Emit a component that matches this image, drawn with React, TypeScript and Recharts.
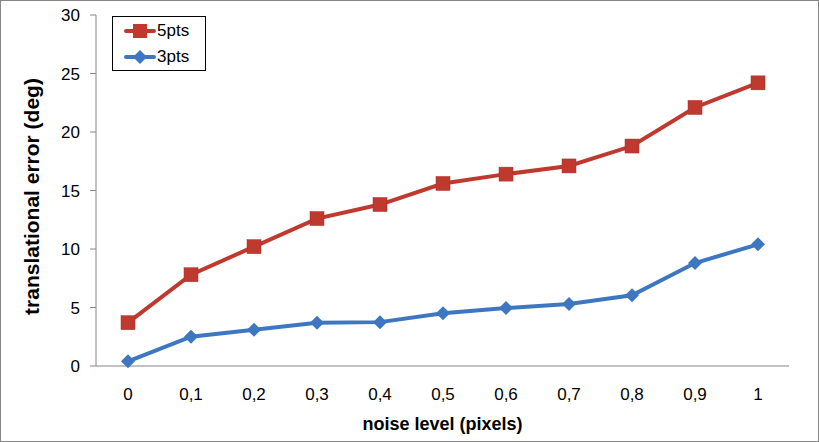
import { LineChart, Line, XAxis, YAxis } from 'recharts';

const noiseLevels = ['0', '0,1', '0,2', '0,3', '0,4', '0,5', '0,6', '0,7', '0,8', '0,9', '1'];
const pts5 = [3.7, 7.8, 10.2, 12.6, 13.8, 15.6, 16.4, 17.1, 18.8, 22.1, 24.2];
const pts3 = [0.4, 2.5, 3.1, 3.7, 3.75, 4.5, 4.95, 5.3, 6.05, 8.8, 10.4];
const yTicks = [0, 5, 10, 15, 20, 25, 30];

const data = noiseLevels.map((n, i) => ({ noise: n, pts5: pts5[i], pts3: pts3[i] }));

const RED = '#C0392F';
const BLUE = '#3D77C2';
const AXIS = '#868686';
const FONT = '"Liberation Sans", Arial, sans-serif';

const SquareDot = (props: any) => {
  const { cx, cy } = props;
  if (cx == null || cy == null) return null;
  return <rect x={cx - 7} y={cy - 7} width={14} height={14} fill={RED} stroke="#A8302A" strokeWidth={0.5} />;
};

const DiamondDot = (props: any) => {
  const { cx, cy } = props;
  if (cx == null || cy == null) return null;
  return <polygon points={`${cx},${cy - 7} ${cx + 7},${cy} ${cx},${cy + 7} ${cx - 7},${cy}`} fill={BLUE} />;
};

function LegendBox() {
  const item = (label: string, color: string, marker: 'sq' | 'dia') => (
    <div style={{ display: 'flex', alignItems: 'center', height: 26 }}>
      <svg width={32} height={16} style={{ marginRight: 1 }}>
        <line x1={2} y1={8} x2={30} y2={8} stroke={color} strokeWidth={4} strokeLinecap="round" />
        {marker === 'sq' ? (
          <rect x={9} y={1} width={14} height={14} fill={color} />
        ) : (
          <polygon points="16,1 23,8 16,15 9,8" fill={color} />
        )}
      </svg>
      <span style={{ fontSize: 17, color: '#000', fontFamily: FONT }}>{label}</span>
    </div>
  );
  return (
    <div style={{ position: 'absolute', left: 112, top: 16, border: '1px solid #000', width: 94, height: 55, boxSizing: 'border-box', padding: '1px 0 0 11px', background: '#fff' }}>
      {item('5pts', RED, 'sq')}
      {item('3pts', BLUE, 'dia')}
    </div>
  );
}

export default function App() {
  return (
    <div style={{ position: 'absolute', left: 0, top: 0, width: 819, height: 442, border: `1px solid ${AXIS}`, boxSizing: 'border-box', background: '#fff' }}>
      <div style={{ position: 'absolute', left: -1, top: -1 }}>
        <LineChart width={819} height={442} data={data} margin={{ top: 15, right: 30, bottom: 30, left: 0 }}>
          <XAxis
            dataKey="noise"
            height={46}
            padding={{ left: 32, right: 31 }}
            stroke={AXIS}
            tickLine={false}
            tickSize={0}
            tickMargin={22}
            tick={{ fill: '#000', fontSize: 17, fontFamily: FONT }}
            label={{
              content: ({ viewBox }: any) => (
                <text x={viewBox.x + viewBox.width / 2} y={430} textAnchor="middle" fontFamily={FONT} fontWeight="bold" fontSize={18} fill="#000">
                  noise level (pixels)
                </text>
              ),
            }}
          />
          <YAxis
            width={96}
            domain={[0, 30]}
            ticks={yTicks}
            stroke={AXIS}
            tickSize={6}
            tickMargin={10}
            tick={{ fill: '#000', fontSize: 17, fontFamily: FONT }}
            label={{
              content: ({ viewBox }: any) => {
                const cy = viewBox.y + viewBox.height / 2 + 6;
                return (
                  <text x={39} y={cy} transform={`rotate(-90, 39, ${cy})`} textAnchor="middle" fontFamily={FONT} fontWeight="bold" fontSize={21} fill="#000">
                    translational error (deg)
                  </text>
                );
              },
            }}
          />
          <Line dataKey="pts5" name="5pts" stroke={RED} strokeWidth={4} dot={<SquareDot />} activeDot={false} isAnimationActive={false} />
          <Line dataKey="pts3" name="3pts" stroke={BLUE} strokeWidth={4} dot={<DiamondDot />} activeDot={false} isAnimationActive={false} />
        </LineChart>
        <LegendBox />
      </div>
    </div>
  );
}
